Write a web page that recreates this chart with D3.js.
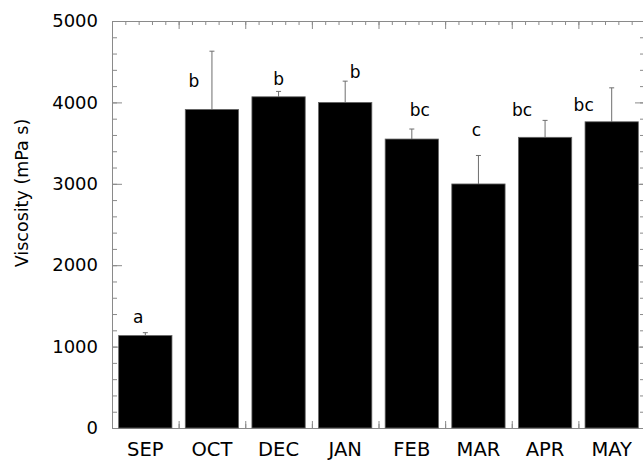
<!DOCTYPE html>
<html>
<head>
<meta charset="utf-8">
<script src="https://cdn.jsdelivr.net/npm/d3@7"></script>
<style>
  body { margin: 0; background: #fff; }
  svg { display: block; }
  svg text { font-family: "DejaVu Sans", sans-serif; fill: #000; }
  .frame path.domain { stroke: #8a8a8a; }
  .frame .tick line { stroke: #8a8a8a; }
</style>
</head>
<body>
<div id="chart"></div>
<script>
// data
const months = ['SEP', 'OCT', 'DEC', 'JAN', 'FEB', 'MAR', 'APR', 'MAY'];
const viscosity = [1136, 3914, 4069, 4000, 3550, 2998, 3571, 3762];
const sd = [35, 715, 66, 261, 123, 350, 208, 417];
const groups = ['a', 'b', 'b', 'b', 'bc', 'c', 'bc', 'bc'];
const yTicks = [0, 1000, 2000, 3000, 4000, 5000];

// where the letters sit, relative to the top of the error bar
const letterDx = [-7, -18, 0, 10, 8, -2, -23, -28];
const letterDy = [-10, 36, -6, -3, -13, -19, -4, 23];

const width = 643, height = 460;
const margin = { top: 21, right: -2, bottom: 32, left: 112 };

const svg = d3.select('#chart').append('svg')
  .attr('width', width)
  .attr('height', height);

const x = d3.scaleBand()
  .domain(months)
  .range([margin.left, width - margin.right])
  .paddingInner(0.2)
  .paddingOuter(0.1);

// linear helper for the tick marks on top/bottom (5 per month)
const xl = d3.scaleLinear()
  .domain([0, months.length * 5])
  .range([margin.left, width - margin.right]);

const y = d3.scaleLinear()
  .domain([0, 5000])
  .range([height - margin.bottom, margin.top]);

const minorY = d3.range(0, 5001, 200);
const minorX = d3.range(0, months.length * 5 + 1);
const majorX = d3.range(0, months.length * 5 + 1, 5);

// left
svg.append('g').attr('class', 'frame')
  .attr('transform', `translate(${margin.left},0)`)
  .call(d3.axisLeft(y).tickValues(minorY).tickSize(-5).tickSizeOuter(0).tickFormat(''));
svg.append('g').attr('class', 'frame')
  .attr('transform', `translate(${margin.left},0)`)
  .call(d3.axisLeft(y).tickValues(yTicks).tickSize(-10).tickSizeOuter(0).tickPadding(14).tickFormat(d3.format('d')))
  .call(g => g.select('.domain').remove())
  .selectAll('text')
  .style('font-size', '18px');

// right
svg.append('g').attr('class', 'frame')
  .attr('transform', `translate(${width - margin.right},0)`)
  .call(d3.axisRight(y).tickValues(minorY).tickSize(-5).tickSizeOuter(0).tickFormat(''));
svg.append('g').attr('class', 'frame')
  .attr('transform', `translate(${width - margin.right},0)`)
  .call(d3.axisRight(y).tickValues(yTicks).tickSize(-10).tickSizeOuter(0).tickFormat(''))
  .call(g => g.select('.domain').remove());

// top
svg.append('g').attr('class', 'frame')
  .attr('transform', `translate(0,${margin.top})`)
  .call(d3.axisTop(xl).tickValues(minorX).tickSize(-4).tickSizeOuter(0).tickFormat(''));
svg.append('g').attr('class', 'frame')
  .attr('transform', `translate(0,${margin.top})`)
  .call(d3.axisTop(xl).tickValues(majorX).tickSize(-8).tickSizeOuter(0).tickFormat(''))
  .call(g => g.select('.domain').remove());

// bottom
svg.append('g').attr('class', 'frame')
  .attr('transform', `translate(0,${height - margin.bottom})`)
  .call(d3.axisBottom(xl).tickValues(minorX).tickSize(-4).tickSizeOuter(0).tickFormat(''));
svg.append('g').attr('class', 'frame')
  .attr('transform', `translate(0,${height - margin.bottom})`)
  .call(d3.axisBottom(xl).tickValues(majorX).tickSize(-7).tickSizeOuter(0).tickFormat(''))
  .call(g => g.select('.domain').remove());

// month labels
svg.append('g')
  .attr('transform', `translate(0,${height - margin.bottom})`)
  .call(d3.axisBottom(x).tickSize(0).tickPadding(14))
  .call(g => g.select('.domain').remove())
  .selectAll('text')
  .style('font-size', '19.5px');

// error bars (upper half only shows)
const err = svg.append('g').attr('stroke', '#6e6e6e').attr('stroke-width', 1);
months.forEach((m, i) => {
  const cx = x(m) + x.bandwidth() / 2;
  err.append('line')
    .attr('x1', cx).attr('x2', cx)
    .attr('y1', y(viscosity[i])).attr('y2', y(viscosity[i] + sd[i]));
  err.append('line')
    .attr('x1', cx - 2.5).attr('x2', cx + 2.5)
    .attr('y1', y(viscosity[i] + sd[i])).attr('y2', y(viscosity[i] + sd[i]));
});

// bars
svg.selectAll('.bar')
  .data(months)
  .enter().append('rect')
  .attr('class', 'bar')
  .attr('x', d => x(d))
  .attr('y', (d, i) => y(viscosity[i]))
  .attr('width', x.bandwidth())
  .attr('height', (d, i) => y(0) - y(viscosity[i]))
  .attr('fill', '#000')
  .attr('stroke', '#666')
  .attr('stroke-width', 0.8);

// significance letters
svg.selectAll('.grp')
  .data(months)
  .enter().append('text')
  .attr('class', 'grp')
  .attr('x', (d, i) => x(d) + x.bandwidth() / 2 + letterDx[i])
  .attr('y', (d, i) => y(viscosity[i] + sd[i]) + letterDy[i])
  .attr('text-anchor', 'middle')
  .style('font-size', '17px')
  .text((d, i) => groups[i]);

// y title
svg.append('text')
  .attr('transform', 'translate(28,193) rotate(-90)')
  .attr('text-anchor', 'middle')
  .style('font-size', '17.5px')
  .text('Viscosity (mPa s)');
</script>
</body>
</html>
